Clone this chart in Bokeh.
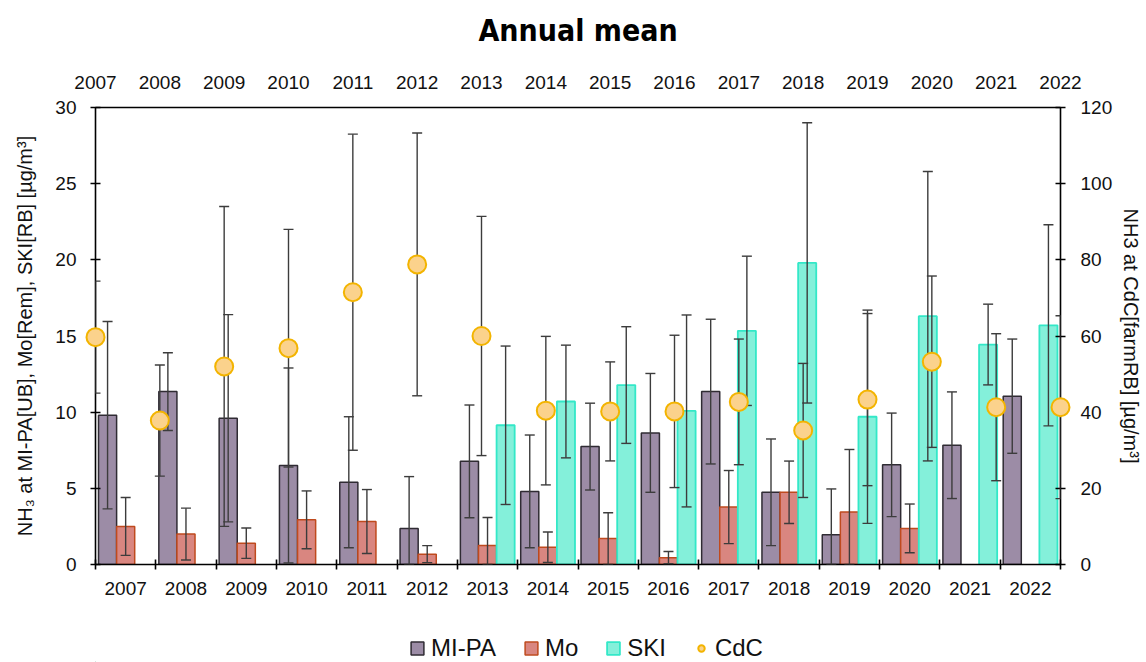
import numpy as np
from bokeh.plotting import figure
from bokeh.layouts import column
from bokeh.models import (ColumnDataSource, Range1d, LinearAxis, FixedTicker,
                          Whisker, TeeHead, Legend, LegendItem, Label)
from bokeh.transform import dodge
from bokeh.embed import file_html
from bokeh.resources import INLINE

years = ["2007", "2008", "2009", "2010", "2011", "2012", "2013", "2014",
         "2015", "2016", "2017", "2018", "2019", "2020", "2021", "2022"]
mipa = [9.8, 11.35, 9.6, 6.5, 5.4, 2.37, 6.77, 4.8, 7.74, 8.64, 11.35, 4.74, 1.96, 6.54, 7.83, 11.05]
mipa_err = [6.15, 2.55, 6.8, 6.4, 4.3, 3.4, 3.7, 3.7, 2.85, 3.9, 4.75, 3.5, 3.0, 3.4, 3.5, 3.75]
mo = [2.5, 2.0, 1.4, 2.93, 2.82, 0.68, 1.24, 1.13, 1.7, 0.45, 3.77, 4.74, 3.45, 2.37, None, None]
mo_err = [1.9, 1.7, 1.0, 1.9, 2.1, 0.56, 1.85, 1.0, 1.7, 0.4, 2.4, 2.05, 4.1, 1.6, None, None]
ski = [None, None, None, None, None, None, 9.14, 10.7, 11.78, 10.08, 15.34, 19.8, 9.7, 16.3, 14.44, 15.7]
ski_err = [None, None, None, None, None, None, 5.2, 3.7, 3.83, 6.3, 4.9, 9.2, 7.0, 9.5, 2.65, 6.6]
cdc = [59.7, 37.8, 52.0, 56.8, 71.5, 78.8, 60.0, 40.4, 40.2, 40.2, 42.7, 35.2, 43.3, 53.25, 41.3, 41.3]
cdc_err = [14.7, 14.6, 42.0, 31.2, 41.5, 34.5, 31.4, 19.5, 13.0, 20.0, 16.5, 17.6, 22.6, 22.5, 19.3, 24.0]
series = ["MI-PA", "Mo", "SKI", "CdC"]
title_text = "Annual mean"

FONT = "Liberation Sans"
C_MIPA = ("#9c8ca6", "#2f2b33")
C_MO = ("#d98680", "#bf4a1e")
C_SKI = ("#84f0da", "#33e8c8")
C_CDC = ("#fbd28c", "#f3b400")


def make_source(vals, errs):
    idx = [i for i, v in enumerate(vals) if v is not None]
    v = np.array([vals[i] for i in idx], dtype=float)
    e = np.array([errs[i] for i in idx], dtype=float)
    return ColumnDataSource(dict(i=idx, v=v, up=v + e, lo=np.maximum(v - e, 0)))


src_mipa = make_source(mipa, mipa_err)
src_mo = make_source(mo, mo_err)
src_ski = make_source(ski, ski_err)
src_cdc = make_source(cdc, cdc_err)

# ---- title strip ----
pt = figure(width=1146, height=50, output_backend="svg", toolbar_location=None,
            x_range=Range1d(0, 1), y_range=Range1d(0, 1), min_border=0,
            x_axis_location=None, y_axis_location=None, outline_line_color=None)
pt.grid.visible = False
pt.add_layout(Label(x=0.5, y=0.4, text=title_text, text_align="center",
                    text_baseline="middle", text_font="DejaVu Sans Condensed, Liberation Sans",
                    text_font_size="30px", text_font_style="bold", text_color="black"))

# ---- main chart ----
n = len(years)
p = figure(frame_width=965, frame_height=457, output_backend="svg", toolbar_location=None,
           x_range=Range1d(-0.5, n - 0.5), y_range=Range1d(0, 30),
           x_axis_location=None, y_axis_location=None,
           min_border_left=95, min_border_right=86, min_border_top=57, min_border_bottom=50)
p.extra_x_ranges = {"cdcx": Range1d(0, n - 1)}
p.extra_y_ranges = {"cdcy": Range1d(0, 120)}
p.outline_line_color = None
p.xgrid.visible = False
p.ygrid.visible = False
p.background_fill_color = "white"
p.border_fill_color = "white"


def style_axis(ax):
    ax.axis_line_color = "black"
    ax.axis_line_width = 1.6
    ax.major_tick_line_color = "black"
    ax.major_tick_line_width = 1.6
    ax.minor_tick_line_color = "black"
    ax.minor_tick_line_width = 1.6
    ax.major_label_text_font = FONT
    ax.major_label_text_font_size = "19px"
    ax.major_label_text_color = "#111111"
    ax.axis_label_text_font = FONT
    ax.axis_label_text_font_size = "20px"
    ax.axis_label_text_font_style = "normal"
    ax.axis_label_text_color = "#111111"


# bottom axis: labels at centres, ticks at boundaries
xb = LinearAxis(ticker=FixedTicker(ticks=list(range(n)),
                                   minor_ticks=[k - 0.5 for k in range(n + 1)]))
style_axis(xb)
xb.major_tick_in = 0
xb.major_tick_out = 0
xb.minor_tick_in = 5
xb.minor_tick_out = 5
xb.major_label_standoff = 12
xb.major_label_overrides = {k: y for k, y in enumerate(years)}
p.add_layout(xb, "below")

# top axis (CdC positions)
xt = LinearAxis(x_range_name="cdcx", ticker=FixedTicker(ticks=list(range(n)), minor_ticks=[]))
style_axis(xt)
xt.major_tick_in = 0
xt.major_tick_out = 0
xt.major_label_standoff = 19
xt.major_label_overrides = {k: y for k, y in enumerate(years)}
p.add_layout(xt, "above")

# left axis
yl = LinearAxis(ticker=FixedTicker(ticks=[0, 5, 10, 15, 20, 25, 30], minor_ticks=[]),
                axis_label="NH\u2083 at MI-PA[UB], Mo[Rem], SKI[RB] [\u00b5g/m\u00b3]")
style_axis(yl)
yl.major_tick_in = 5
yl.major_tick_out = 5
yl.major_label_standoff = 14
yl.axis_label_standoff = 16
p.add_layout(yl, "left")

# right axis
yr = LinearAxis(y_range_name="cdcy",
                ticker=FixedTicker(ticks=[0, 20, 40, 60, 80, 100, 120], minor_ticks=[]),
                axis_label="NH3 at CdC[farmRB] [\u00b5g/m\u00b3]")
style_axis(yr)
yr.major_tick_in = 5
yr.major_tick_out = 5
yr.major_label_standoff = 15
yr.axis_label_standoff = 5
p.add_layout(yr, "right")

# bars
W = 0.3
p.vbar(x=dodge("i", -0.3), top="v", width=W, source=src_mipa,
       fill_color=C_MIPA[0], line_color=C_MIPA[1], line_width=1.5)
p.vbar(x=dodge("i", 0.0), top="v", width=W, source=src_mo,
       fill_color=C_MO[0], line_color=C_MO[1], line_width=1.5)
p.vbar(x=dodge("i", 0.3), top="v", width=W, source=src_ski,
       fill_color=C_SKI[0], line_color=C_SKI[1], line_width=1.8)

ERR = "#3c3c3c"


def whisk(src, off, **kw):
    w = Whisker(source=src, base=dodge("i", off), upper="up", lower="lo",
                line_color=ERR, line_width=1.4, level="annotation",
                upper_head=TeeHead(size=10, line_color=ERR, line_width=1.4),
                lower_head=TeeHead(size=10, line_color=ERR, line_width=1.4), **kw)
    p.add_layout(w)


whisk(src_mipa, -0.3)
whisk(src_mo, 0.0)
whisk(src_ski, 0.3)
whisk(src_cdc, 0.0, x_range_name="cdcx", y_range_name="cdcy")

r_cdc = p.scatter(x="i", y="v", source=src_cdc, x_range_name="cdcx", y_range_name="cdcy",
                  marker="circle", size=18, fill_color=C_CDC[0], line_color=C_CDC[1],
                  line_width=2)
r_cdc.level = "overlay"

# ---- legend strip ----
pl = figure(width=1146, height=48, output_backend="svg", toolbar_location=None,
            x_range=Range1d(0, 1), y_range=Range1d(0, 1),
            x_axis_location=None, y_axis_location=None,
            min_border=0, outline_line_color=None)
pl.grid.visible = False


def off_src():
    # proxy point outside the visible range, used only for the legend swatch
    return ColumnDataSource(dict(x=[-10.0], top=[0.0]))


l1 = pl.vbar(x="x", top="top", width=0.1, source=off_src(),
             fill_color=C_MIPA[0], line_color=C_MIPA[1], line_width=1.5)
l2 = pl.vbar(x="x", top="top", width=0.1, source=off_src(),
             fill_color=C_MO[0], line_color=C_MO[1], line_width=1.5)
l3 = pl.vbar(x="x", top="top", width=0.1, source=off_src(),
             fill_color=C_SKI[0], line_color=C_SKI[1], line_width=1.8)
l4 = pl.scatter(x="x", y="top", source=off_src(), marker="circle", size=18,
                fill_color=C_CDC[0], line_color=C_CDC[1], line_width=2)
legend = Legend(items=[LegendItem(label=s, renderers=[r]) for s, r in zip(series, [l1, l2, l3, l4])],
                orientation="horizontal", location=(314, 0),
                label_text_font=FONT, label_text_font_size="24px",
                label_text_color="#111111", glyph_width=16, glyph_height=16,
                spacing=27, label_standoff=6, border_line_color=None,
                background_fill_alpha=0, margin=0, padding=3)
pl.add_layout(legend)

layout = column(pt, p, pl, spacing=0)
open("out.html", "w").write(file_html(layout, INLINE))
